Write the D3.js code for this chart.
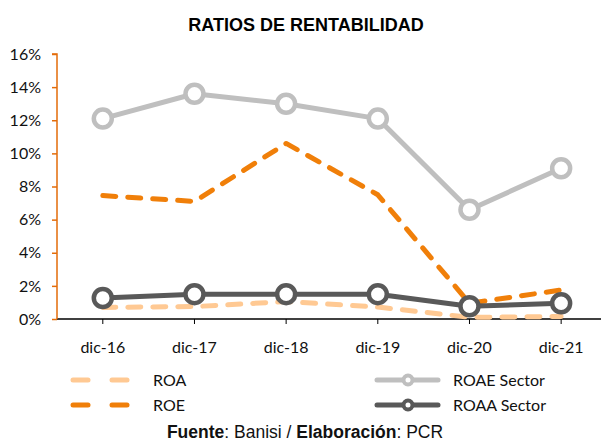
<!DOCTYPE html>
<html>
<head>
<meta charset="utf-8">
<script src="https://d3js.org/d3.v7.min.js"></script>
<style>
  body { margin: 0; background: #fff; }
  svg { display: block; }
</style>
</head>
<body>
<div id="chart"></div>
<script>
// data
const categories = ['dic-16', 'dic-17', 'dic-18', 'dic-19', 'dic-20', 'dic-21'];
const roa = [0.70, 0.75, 1.05, 0.72, 0.10, 0.15];
const roe = [7.45, 7.10, 10.60, 7.50, 0.95, 1.75];
const roaeSector = [12.1, 13.6, 13.0, 12.1, 6.6, 9.1];
const roaaSector = [1.27, 1.50, 1.50, 1.50, 0.77, 0.95];
const yTicks = [0, 2, 4, 6, 8, 10, 12, 14, 16];

const width = 601, height = 441;
const margin = { top: 54, left: 57, bottom: 121 };

const svg = d3.select('#chart').append('svg')
  .attr('width', width).attr('height', height);

const x = d3.scalePoint().domain(categories)
  .range([margin.left + 45.8, margin.left + 45.8 + 5 * 91.67]);
const y = d3.scaleLinear().domain([0, 16]).range([height - margin.bottom - 1, margin.top]);

// title
svg.append('text')
  .attr('x', 306).attr('y', 31)
  .attr('text-anchor', 'middle')
  .attr('font-family', 'Liberation Sans, Arial, sans-serif')
  .attr('font-weight', 'bold').attr('font-size', 18)
  .text('RATIOS DE RENTABILIDAD');

// x axis
const xAxis = svg.append('g')
  .attr('transform', `translate(0,${y(0)})`);
xAxis.append('line')
  .attr('x1', margin.left).attr('x2', width)
  .attr('stroke', '#000').attr('stroke-width', 1.3);
xAxis.selectAll('line.tick').data(categories).enter().append('line')
  .attr('class', 'tick')
  .attr('x1', d => x(d)).attr('x2', d => x(d))
  .attr('y1', 0).attr('y2', 5)
  .attr('stroke', '#000');
xAxis.selectAll('text').data(categories).enter().append('text')
  .attr('x', d => x(d)).attr('y', 34)
  .attr('text-anchor', 'middle')
  .attr('font-family', 'Lato, sans-serif').attr('font-size', 16)
  .attr('fill', '#111')
  .text(d => d);

// y axis
const yAxis = d3.axisLeft(y).tickValues(yTicks)
  .tickSize(5).tickPadding(11).tickFormat(d => d + '%');
const gy = svg.append('g')
  .attr('transform', `translate(${margin.left},0)`)
  .call(yAxis);
gy.select('.domain').attr('stroke', '#E36C0A').attr('stroke-width', 1.5)
  .attr('d', `M-5,${y(16)}H0V${y(0)}`);
gy.selectAll('.tick line').attr('stroke', '#E36C0A').attr('stroke-width', 1.5);
gy.selectAll('.tick text')
  .attr('font-family', 'Lato, sans-serif').attr('font-size', 16)
  .attr('fill', '#111');

const line = d3.line().x((d, i) => x(categories[i])).y(d => y(d));

const series = [
  { name: 'ROA', values: roa, color: '#FFC993', dash: '13,12', marker: false },
  { name: 'ROE', values: roe, color: '#F07F09', dash: '13,12', marker: false },
  { name: 'ROAE Sector', values: roaeSector, color: '#BFBFBF', dash: null, marker: true },
  { name: 'ROAA Sector', values: roaaSector, color: '#595959', dash: null, marker: true },
];

series.forEach(s => {
  svg.append('path')
    .datum(s.values)
    .attr('d', line)
    .attr('fill', 'none')
    .attr('stroke', s.color)
    .attr('stroke-width', 5)
    .attr('stroke-linecap', 'round')
    .attr('stroke-linejoin', 'round')
    .attr('stroke-dasharray', s.dash);
  if (s.marker) {
    svg.selectAll(null).data(s.values).enter().append('circle')
      .attr('cx', (d, i) => x(categories[i]))
      .attr('cy', d => y(d))
      .attr('r', 9)
      .attr('fill', '#fff')
      .attr('stroke', s.color)
      .attr('stroke-width', 4.5);
  }
});

// legend
const legendPos = [
  { x: 70, y: 380 }, { x: 70, y: 405 },
  { x: 375, y: 380 }, { x: 375, y: 405 },
];
series.forEach((s, i) => {
  const p = legendPos[i];
  const g = svg.append('g').attr('transform', `translate(${p.x},${p.y})`);
  if (s.dash) {
    g.append('line').attr('x1', 3).attr('x2', 18)
      .attr('stroke', s.color).attr('stroke-width', 5).attr('stroke-linecap', 'round');
    g.append('line').attr('x1', 42).attr('x2', 57)
      .attr('stroke', s.color).attr('stroke-width', 5).attr('stroke-linecap', 'round');
  } else {
    g.append('line').attr('x1', 2).attr('x2', 63)
      .attr('stroke', s.color).attr('stroke-width', 5).attr('stroke-linecap', 'round');
    g.append('circle').attr('cx', 33).attr('cy', 0).attr('r', 4.5)
      .attr('fill', '#fff').attr('stroke', s.color).attr('stroke-width', 4);
  }
  g.append('text')
    .attr('x', s.dash ? 83 : 78).attr('y', 6)
    .attr('font-family', 'Lato, sans-serif').attr('font-size', 16)
    .attr('fill', '#111')
    .text(s.name);
});

// source note
const note = svg.append('text')
  .attr('x', 305).attr('y', 438)
  .attr('text-anchor', 'middle')
  .attr('font-family', 'Liberation Sans, Arial, sans-serif')
  .attr('font-size', 17.5).attr('fill', '#111');
note.append('tspan').attr('font-weight', 'bold').text('Fuente');
note.append('tspan').text(': Banisi / ');
note.append('tspan').attr('font-weight', 'bold').text('Elaboración');
note.append('tspan').text(': PCR');
</script>
</body>
</html>
